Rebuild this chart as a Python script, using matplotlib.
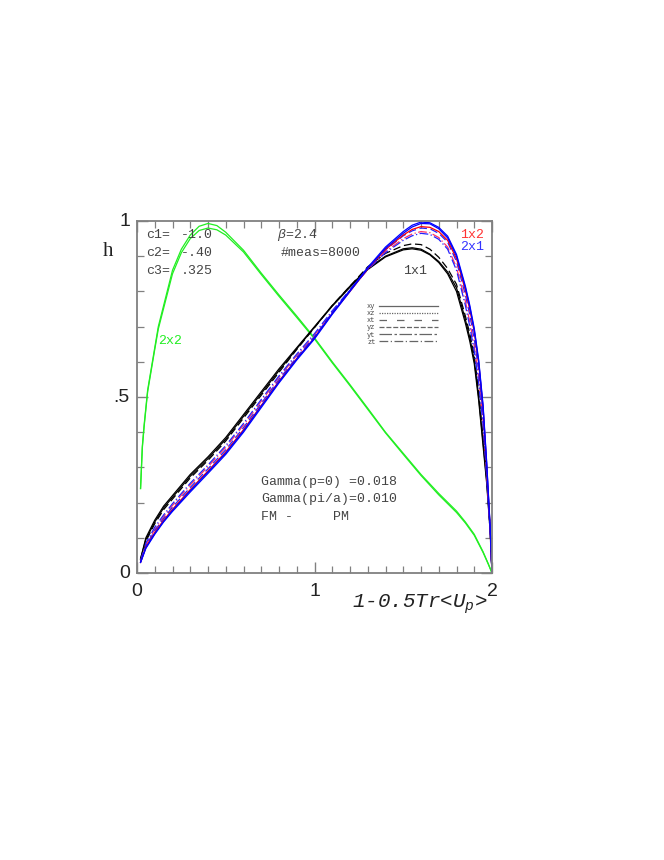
import matplotlib
matplotlib.use("Agg")
import matplotlib.pyplot as plt
from matplotlib.lines import Line2D
from matplotlib.ticker import MultipleLocator

plt.rcParams['mathtext.fontset'] = 'custom'
plt.rcParams['mathtext.it'] = 'Liberation Mono:italic'
plt.rcParams['mathtext.rm'] = 'Liberation Mono'

# shared x grid for the 1x1, 1x2, 2x1 curves
xg = [0.02, 0.05, 0.1, 0.15, 0.2, 0.3, 0.4, 0.5, 0.6, 0.7, 0.8, 0.9, 1.0, 1.1, 1.2,
      1.3, 1.4, 1.5, 1.55, 1.6, 1.65, 1.7, 1.75, 1.8, 1.85, 1.875, 1.9, 1.925, 1.95,
      1.97, 1.99, 2.0]

h_1x1_solid = [0.04, 0.10, 0.15, 0.19, 0.22, 0.28, 0.33, 0.385, 0.45, 0.515, 0.58, 0.64, 0.70,
               0.76, 0.815, 0.865, 0.90, 0.921, 0.924, 0.92, 0.906, 0.885, 0.855,
               0.81, 0.72, 0.668, 0.605, 0.50, 0.37, 0.264, 0.12, 0.0]
h_1x1_solid2 = [0.04, 0.095, 0.145, 0.185, 0.215, 0.275, 0.325, 0.38, 0.445, 0.51, 0.575, 0.637,
                0.698, 0.758, 0.812, 0.862, 0.898, 0.918, 0.921, 0.917, 0.904, 0.882, 0.85,
                0.80, 0.71, 0.658, 0.595, 0.49, 0.36, 0.255, 0.115, 0.0]
h_1x1_dash = [0.035, 0.09, 0.14, 0.18, 0.21, 0.27, 0.32, 0.375, 0.44, 0.505, 0.57, 0.635, 0.697,
              0.76, 0.815, 0.87, 0.908, 0.93, 0.935, 0.933, 0.92, 0.897, 0.865,
              0.82, 0.73, 0.68, 0.618, 0.515, 0.385, 0.275, 0.125, 0.0]

h_2x1_solid = [0.03, 0.07, 0.11, 0.145, 0.175, 0.23, 0.283, 0.337, 0.40, 0.47, 0.54, 0.605, 0.665,
               0.735, 0.80, 0.865, 0.922, 0.965, 0.983, 0.993, 0.992, 0.978, 0.952,
               0.90, 0.81, 0.755, 0.69, 0.60, 0.47, 0.31, 0.125, 0.0]
h_2x1_solid2 = [0.03, 0.072, 0.112, 0.147, 0.178, 0.234, 0.287, 0.341, 0.404, 0.474, 0.543, 0.608,
                0.668, 0.738, 0.803, 0.868, 0.926, 0.97, 0.988, 0.997, 0.995, 0.982, 0.957,
                0.905, 0.815, 0.76, 0.695, 0.605, 0.475, 0.315, 0.128, 0.0]
h_2x1_dash = [0.032, 0.078, 0.12, 0.155, 0.187, 0.243, 0.296, 0.35, 0.413, 0.482, 0.55, 0.613,
              0.672, 0.74, 0.803, 0.865, 0.918, 0.958, 0.972, 0.98, 0.978, 0.965, 0.94,
              0.885, 0.79, 0.733, 0.665, 0.575, 0.45, 0.295, 0.12, 0.0]
h_2x1_dashdot = [0.035, 0.085, 0.13, 0.165, 0.197, 0.255, 0.307, 0.362, 0.425, 0.493, 0.56, 0.622,
                 0.68, 0.745, 0.805, 0.862, 0.91, 0.945, 0.958, 0.965, 0.962, 0.948, 0.92,
                 0.86, 0.76, 0.70, 0.63, 0.54, 0.42, 0.275, 0.11, 0.0]

h_1x2_solid = [0.03, 0.074, 0.115, 0.15, 0.181, 0.237, 0.29, 0.344, 0.407, 0.476, 0.545, 0.609,
               0.668, 0.737, 0.80, 0.864, 0.919, 0.96, 0.976, 0.984, 0.982, 0.97, 0.945,
               0.893, 0.803, 0.748, 0.685, 0.595, 0.465, 0.305, 0.123, 0.0]
h_1x2_dashdot = [0.033, 0.08, 0.124, 0.16, 0.192, 0.25, 0.302, 0.357, 0.42, 0.488, 0.556, 0.618,
                 0.676, 0.742, 0.803, 0.862, 0.913, 0.95, 0.963, 0.97, 0.967, 0.953, 0.926,
                 0.868, 0.772, 0.713, 0.645, 0.555, 0.43, 0.283, 0.115, 0.0]

# 2x2 curves
xg2 = [0.02, 0.03, 0.04, 0.06, 0.08, 0.1, 0.12, 0.15, 0.2, 0.25, 0.3, 0.35, 0.4, 0.45, 0.5, 0.6,
       0.7, 0.8, 0.9, 1.0, 1.1, 1.2, 1.3, 1.4, 1.5, 1.6, 1.7, 1.8, 1.85, 1.9, 1.95, 1.98, 2.0]
h_2x2_a = [0.24, 0.36, 0.42, 0.52, 0.58, 0.64, 0.70, 0.76, 0.86, 0.92, 0.96, 0.985, 0.993, 0.987,
           0.968, 0.917, 0.852, 0.79, 0.73, 0.668, 0.60, 0.535, 0.468, 0.40, 0.34, 0.28, 0.226,
           0.176, 0.145, 0.11, 0.06, 0.025, 0.0]
h_2x2_b = [0.24, 0.355, 0.415, 0.515, 0.575, 0.635, 0.693, 0.752, 0.85, 0.91, 0.95, 0.973, 0.98,
           0.975, 0.96, 0.912, 0.848, 0.786, 0.726, 0.665, 0.597, 0.532, 0.465, 0.398, 0.337,
           0.277, 0.222, 0.172, 0.142, 0.107, 0.058, 0.024, 0.0]

legend_labels = ['xy', 'xz', 'xt', 'yz', 'yt', 'zt']
legend_styles = ['-', (0, (1, 1)), (0, (6, 8)), (0, (4, 1.5)), (0, (10, 2, 2, 2)), (0, (7, 2, 1, 2))]

GREEN = '#22ee22'
FRAME = '#808080'
TXT = '#444444'

fig = plt.figure(figsize=(6.64, 8.6), dpi=100)
ax = fig.add_axes([137 / 664, 1 - 573 / 860, 355 / 664, 352 / 860])

lw = 0.9
ax.plot(xg2, h_2x2_a, color=GREEN, lw=lw)
ax.plot(xg2, h_2x2_b, color=GREEN, lw=lw)

ax.plot(xg, h_1x1_dash, color='black', lw=lw, ls=(0, (6, 3)))
ax.plot(xg, h_1x1_solid2, color='black', lw=lw)
ax.plot(xg, h_1x1_solid, color='black', lw=lw)

ax.plot(xg, h_1x2_dashdot, color='#ff3366', lw=lw, ls=(0, (7, 2, 1, 2)))
ax.plot(xg, h_2x1_dashdot, color='#2222ff', lw=lw, ls=(0, (7, 2, 1, 2)))
ax.plot(xg, h_2x1_dash, color='#2222ff', lw=lw, ls=(0, (6, 3)))
ax.plot(xg, h_1x2_solid, color='red', lw=lw)
ax.plot(xg, h_2x1_solid2, color='blue', lw=lw)
ax.plot(xg, h_2x1_solid, color='blue', lw=lw)

ax.set_xlim(0, 2)
ax.set_ylim(0, 1)

ax.xaxis.set_major_locator(MultipleLocator(1))
ax.xaxis.set_minor_locator(MultipleLocator(0.1))
ax.yaxis.set_major_locator(MultipleLocator(0.5))
ax.yaxis.set_minor_locator(MultipleLocator(0.1))
ax.tick_params(which='both', direction='in', top=True, right=True, color=FRAME,
               labelbottom=False, labelleft=False)
ax.tick_params(which='major', length=8, width=1)
ax.tick_params(which='minor', length=5, width=0.9)
for s in ax.spines.values():
    s.set_color(FRAME)
    s.set_linewidth(1.3)

# tick labels drawn as text to place them like the original
tick_font = dict(family='Liberation Sans', fontsize=14, color='#222222')
for v, lab in [(0, '0'), (1, '1'), (2, '2')]:
    ax.text(v, -0.053, lab, ha='center', va='center', clip_on=False, **tick_font)
for v, lab in [(0, '0'), (0.5, '.5'), (1, '1')]:
    ax.text(-0.04, v, lab, ha='right', va='center', clip_on=False, **tick_font)

ax.text(-0.163, 0.912, 'h', family='Liberation Serif', fontsize=15, color='#222222',
        ha='center', va='center', clip_on=False)
ax.text(1.211, -0.09, '1-0.5Tr<U$_p$>', family='Liberation Mono', style='italic',
        fontsize=15, color='#222222', ha='left', va='center', clip_on=False)

mono = dict(family='Liberation Mono', fontsize=9.5, color=TXT, va='center')
ax.text(0.05, 0.96, 'c1=', **mono)
ax.text(0.05, 0.91, 'c2=', **mono)
ax.text(0.05, 0.858, 'c3=', **mono)
ax.text(0.248, 0.96, '-1.0', **mono)
ax.text(0.248, 0.91, '-.40', **mono)
ax.text(0.248, 0.858, '.325', **mono)
ax.text(0.79, 0.96, r'$\beta$=2.4', **mono)
ax.text(0.81, 0.91, '#meas=8000', **mono)
ax.text(1.50, 0.858, '1x1', **mono)
ax.text(1.82, 0.96, '1x2', family='Liberation Mono', fontsize=9.5, color='#ff3333', va='center')
ax.text(1.82, 0.926, '2x1', family='Liberation Mono', fontsize=9.5, color='#3333ff', va='center')
ax.text(0.12, 0.66, '2x2', family='Liberation Mono', fontsize=9.5, color=GREEN, va='center')
ax.text(0.70, 0.259, 'Gamma(p=0) =0.018', **mono)
ax.text(0.70, 0.21, 'Gamma(pi/a)=0.010', **mono)
ax.text(0.70, 0.159, 'FM -     PM', **mono)

handles = [Line2D([], [], color='#666666', lw=0.9, ls=st) for st in legend_styles]
leg = ax.legend(handles, legend_labels, loc='upper left', bbox_to_anchor=(0.648, 0.767),
                markerfirst=False, frameon=False, handlelength=8.5,
                handletextpad=0.5, labelspacing=0.02, borderpad=0, borderaxespad=0,
                prop={'family': 'Liberation Mono', 'size': 5})
for t in leg.get_texts():
    t.set_color(TXT)

fig.savefig('out.png', dpi=100)
